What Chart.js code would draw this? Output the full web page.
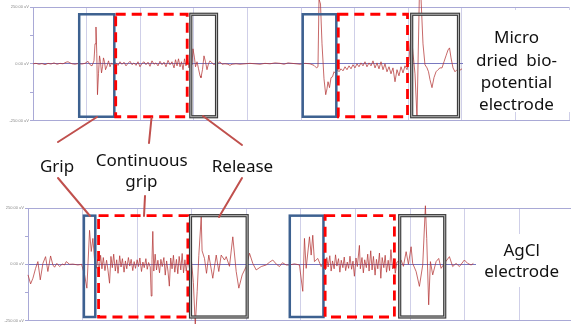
<!DOCTYPE html>
<html>
<head>
<meta charset="utf-8">
<script src="https://cdn.jsdelivr.net/npm/chart.js@4.4.1/dist/chart.umd.min.js"></script>
<style>
body { margin: 0; background: #fff; }
#wrap { position: relative; width: 571px; height: 324px; overflow: hidden; }
canvas { position: absolute; left: 0; }
#topChart { top: 0; }
#botChart { top: 200px; }
svg { position: absolute; left: 0; top: 0; }
svg text { font-family: "Noto Sans", sans-serif; font-size: 17px; fill: #111; text-anchor: middle; }
</style>
</head>
<body>
<div id="wrap">
<canvas id="topChart" width="571" height="124"></canvas>
<canvas id="botChart" width="571" height="124"></canvas>
<svg width="571" height="324">
  <g stroke="#c0504d" stroke-width="2" stroke-linecap="round">
    <line x1="97" y1="117" x2="58" y2="142"/>
    <line x1="151.5" y1="118" x2="149" y2="143"/>
    <line x1="203" y1="116" x2="242" y2="145"/>
    <line x1="58" y1="178" x2="90" y2="216"/>
    <line x1="145" y1="196" x2="144" y2="216"/>
    <line x1="242" y1="178" x2="219" y2="217"/>
  </g>
  <text x="57" y="171.7">Grip</text>
  <text x="141.7" y="166">Continuous</text>
  <text x="141.4" y="187.3">grip</text>
  <text x="242.5" y="171.7">Release</text>
  <rect x="463" y="10" width="108" height="102" fill="#fff"/>
  <text x="516.5" y="42.7">Micro</text>
  <text x="516.5" y="66" style="word-spacing:4px">dried bio-</text>
  <text x="516.5" y="88">potential</text>
  <text x="516.5" y="109.7">electrode</text>
  <rect x="476" y="234" width="95" height="53" fill="#fff"/>
  <text x="521.7" y="255.7">AgCl</text>
  <text x="521.7" y="277.3">electrode</text>
</svg>
</div>
<script>
// y axis (uV)
var yTicks = [-250, -125, 0, 125, 250];
var yTickLabels = ['-250.00 uV', '', '0.00 uV', '', '250.00 uV'];

// micro dried bio-potential electrode, time in s (1 grid = 1 s), signal in uV
var topTime = [
  0, 0.056, 0.112, 0.168, 0.224, 0.28, 0.336, 0.392, 0.448, 0.504,
  0.56, 0.616, 0.653, 0.69, 0.728, 0.784, 0.84, 0.914, 0.97, 1.026,
  1.063, 1.101, 1.138, 1.157, 1.175, 1.19, 1.203, 1.222, 1.241, 1.259,
  1.278, 1.297, 1.315, 1.334, 1.353, 1.381, 1.409, 1.437, 1.465, 1.493,
  1.511, 1.549, 1.586, 1.623, 1.66, 1.698, 1.735, 1.772, 1.81, 1.847,
  1.884, 1.922, 1.959, 1.996, 2.034, 2.071, 2.108, 2.146, 2.183, 2.22,
  2.257, 2.295, 2.332, 2.369, 2.407, 2.444, 2.481, 2.519, 2.556, 2.593,
  2.631, 2.659, 2.687, 2.715, 2.743, 2.771, 2.799, 2.827, 2.854, 2.882,
  2.91, 2.938, 2.966, 2.985, 3.013, 3.032, 3.06, 3.088, 3.116, 3.134,
  3.162, 3.19, 3.218, 3.246, 3.274, 3.302, 3.34, 3.377, 3.414, 3.451,
  3.489, 3.526, 3.582, 3.638, 3.675, 3.713, 3.787, 3.862, 3.955, 4.049,
  4.142, 4.235, 4.328, 4.422, 4.515, 4.608, 4.683, 4.757, 4.832, 4.907,
  4.981, 5.075, 5.168, 5.243, 5.289, 5.317, 5.336, 5.364, 5.392, 5.429,
  5.461, 5.485, 5.504, 5.532, 5.56, 5.588, 5.616, 5.653, 5.681, 5.709,
  5.746, 5.784, 5.821, 5.858, 5.896, 5.933, 5.97, 6.007, 6.045, 6.082,
  6.119, 6.157, 6.194, 6.231, 6.269, 6.306, 6.343, 6.381, 6.418, 6.455,
  6.493, 6.53, 6.567, 6.604, 6.642, 6.679, 6.716, 6.754, 6.791, 6.828,
  6.866, 6.903, 6.94, 6.978, 7.015, 7.052, 7.09, 7.127, 7.164, 7.207,
  7.239, 7.276, 7.313, 7.351, 7.379, 7.407, 7.444, 7.481, 7.519, 7.556,
  7.593, 7.631, 7.668, 7.705, 7.743, 7.771, 7.799, 7.836, 7.873, 7.91,
  7.948, 8.004
];
var topUv = [
  0, 2, -2, 1, -4, 2, -1, 4, -2, 2,
  0, 7, 9, 4, 0, -2, 1, -1, 2, 11,
  -4, -9, 13, 88, 162, 44, -136, -44, 35, 9,
  -40, -13, 26, 9, -26, -9, 13, -13, 4, -4,
  2, 4, -7, 9, -2, 7, -9, 2, 11, -4,
  4, -7, 9, -13, 2, 9, -4, 7, -11, 13,
  -2, 4, -9, 11, -4, 7, -13, 15, -4, 9,
  -18, 18, -9, 22, -13, 9, -26, 22, -9, 26,
  -18, 13, -4, 66, 26, -13, 9, -22, -53, -61,
  -26, 35, 9, -26, 0, 13, 4, -4, 4, 2,
  9, -2, 0, -2, -7, -2, 0, -2, 0, 2,
  0, -2, 2, 0, 4, 2, -2, 4, 2, 0,
  -2, 2, 0, -7, -18, -13, 285, 263, 88, -66,
  -136, -110, -79, -105, -61, -57, -35, -44, -26, -35,
  -22, -31, -13, -26, -9, -22, -4, -18, 0, -13,
  4, -9, 9, -13, 4, -9, 13, -18, 4, -22,
  9, -26, 0, -35, -13, -44, -18, -79, -26, -53,
  -13, -40, -9, -26, 13, 149, 44, -44, -237, 285,
  290, 88, -4, -18, -35, -70, -105, -61, -35, -26,
  -18, -18, 9, 35, 61, 70, 26, -18, -35, -26,
  -31, -22
];

// AgCl electrode
var botTime = [
  0, 0.048, 0.09, 0.139, 0.181, 0.225, 0.273, 0.322, 0.364, 0.414,
  0.456, 0.487, 0.529, 0.579, 0.628, 0.67, 0.701, 0.762, 0.822, 0.914,
  0.982, 1.037, 1.079, 1.128, 1.159, 1.189, 1.22, 1.251, 1.275, 1.3,
  1.33, 1.355, 1.38, 1.41, 1.44, 1.465, 1.494, 1.52, 1.545, 1.57,
  1.6, 1.625, 1.65, 1.68, 1.705, 1.73, 1.76, 1.785, 1.81, 1.84,
  1.865, 1.89, 1.92, 1.945, 1.97, 2.0, 2.025, 2.05, 2.08, 2.105,
  2.13, 2.16, 2.185, 2.21, 2.24, 2.258, 2.272, 2.287, 2.305, 2.33,
  2.355, 2.38, 2.41, 2.435, 2.46, 2.49, 2.515, 2.54, 2.565, 2.59,
  2.615, 2.64, 2.665, 2.69, 2.72, 2.745, 2.77, 2.8, 2.825, 2.85,
  2.875, 2.9, 2.93, 2.96, 2.99, 3.03, 3.065, 3.1, 3.13, 3.174,
  3.19, 3.234, 3.271, 3.313, 3.386, 3.449, 3.496, 3.54, 3.601, 3.632,
  3.692, 3.753, 3.815, 3.863, 3.925, 3.998, 4.059, 4.119, 4.181, 4.273,
  4.364, 4.425, 4.485, 4.553, 4.608, 4.663, 4.731, 4.791, 4.883, 4.974,
  5.035, 5.066, 5.097, 5.158, 5.189, 5.218, 5.249, 5.31, 5.372, 5.414,
  5.45, 5.475, 5.5, 5.53, 5.555, 5.58, 5.61, 5.635, 5.66, 5.69,
  5.715, 5.74, 5.77, 5.795, 5.82, 5.85, 5.875, 5.9, 5.93, 5.955,
  5.981, 6.01, 6.035, 6.073, 6.09, 6.12, 6.145, 6.17, 6.2, 6.225,
  6.25, 6.28, 6.305, 6.33, 6.36, 6.385, 6.41, 6.44, 6.465, 6.49,
  6.52, 6.545, 6.57, 6.6, 6.625, 6.65, 6.68, 6.705, 6.73, 6.76,
  6.837, 6.879, 6.929, 6.971, 7.02, 7.049, 7.112, 7.172, 7.233, 7.282,
  7.306, 7.342, 7.374, 7.416, 7.478, 7.526, 7.57, 7.63, 7.722, 7.782,
  7.844, 7.905, 7.996, 8.057, 8.119, 8.161
];
var botUv = [
  -47, -87, -62, -18, 12, -69, 4, 34, -32, 37,
  -3, -13, 4, -10, 1, -3, 12, 0, 1, -3,
  0, -47, -106, 151, 57, 115, 19, -18, 22, -35,
  40, -20, 30, -28, 18, -25, -84, 35, -15, 45,
  -30, 20, -40, 38, -12, 25, -35, 15, -20, 30,
  -8, 22, -28, 12, -18, 20, -10, 28, -32, 10,
  -15, 25, -22, 8, -12, -141, 20, 146, -30, 45,
  -25, 18, -38, 22, -10, 30, -48, 15, -30, -97,
  28, -20, 40, -35, 22, -42, 35, -25, 48, -38,
  20, -30, 26, -20, 30, -80, -270, -120, 40, 210,
  60, 26, -40, 41, -62, 41, -32, 41, 19, 34,
  -9, 122, -32, -106, -47, -10, 49, 4, -25, -10,
  -3, 9, 19, 0, -10, 7, -3, -3, 2, -3,
  -120, 115, -18, 122, 41, 129, 12, 26, -10, 9,
  -25, 30, -12, 38, -30, 15, -20, 42, -8, 25,
  -35, 18, -15, 32, -28, 10, -18, 36, -22, 14,
  -53, 28, -10, 84, -20, 30, -38, 20, -15, 45,
  -30, 60, -25, 35, -48, 22, -20, 50, -62, 30,
  -15, 40, -35, 18, -28, 65, -20, 25, -40, 10,
  19, -9, 56, 0, 78, 4, -32, -98, -3, 260,
  115, -180, 12, -47, 12, 26, -18, 4, 34, -10,
  4, -10, 19, 4, -3, 4
];

// marked phases (s)
var phaseKind = ['grip', 'continuous', 'release', 'grip', 'continuous', 'release'];
var topPhaseStart = [0.862, 1.543, 2.944, 5.032, 5.696, 7.065];
var topPhaseEnd = [1.517, 2.877, 3.424, 5.659, 6.987, 7.938];
var botPhaseStart = [1.024, 1.293, 2.978, 4.797, 5.445, 6.811];
var botPhaseEnd = [1.233, 2.929, 4.016, 5.414, 6.714, 7.636];

var phasePlugin = {
  id: 'phases',
  afterDatasetsDraw: function(chart, args, o) {
    var ctx = chart.ctx, xs = chart.scales.x, ys = chart.scales.y;
    var y1 = ys.getPixelForValue(o.top), y2 = ys.getPixelForValue(o.bottom);
    ctx.save();
    for (var i = 0; i < o.start.length; i++) {
      var x1 = xs.getPixelForValue(o.start[i]), x2 = xs.getPixelForValue(o.end[i]);
      var k = phaseKind[i];
      if (k == 'grip') {
        ctx.setLineDash([]);
        ctx.strokeStyle = '#3d6190';
        ctx.lineWidth = 2.5;
        ctx.strokeRect(x1, y1, x2 - x1, y2 - y1);
      } else if (k == 'continuous') {
        ctx.setLineDash([10, 6]);
        ctx.strokeStyle = '#ff0000';
        ctx.lineWidth = 2.8;
        ctx.strokeRect(x1, y1, x2 - x1, y2 - y1);
      } else {
        ctx.setLineDash([]);
        ctx.strokeStyle = '#3a3a3a';
        ctx.lineWidth = 3.2;
        ctx.strokeRect(x1, y1, x2 - x1, y2 - y1);
        ctx.strokeStyle = '#b8b8b8';
        ctx.lineWidth = 1;
        ctx.strokeRect(x1, y1, x2 - x1, y2 - y1);
      }
    }
    ctx.restore();
  }
};

function makeChart(id, times, values, cfg) {
  var pts = times.map(function(t, i) { return {x: t, y: values[i]}; });
  return new Chart(id, {
    type: 'scatter',
    data: {
      datasets: [{
        data: pts,
        showLine: true,
        borderColor: 'rgba(180,55,55,0.75)',
        borderWidth: 1,
        pointRadius: 0,
        tension: 0,
        clip: false
      }]
    },
    options: {
      responsive: false,
      animation: false,
      layout: { padding: { top: cfg.padTop, right: cfg.padRight, left: 0, bottom: 0 } },
      plugins: {
        legend: { display: false },
        tooltip: { enabled: false },
        phases: { start: cfg.start, end: cfg.end, top: cfg.boxTop, bottom: cfg.boxBottom }
      },
      scales: {
        x: {
          type: 'linear', min: 0, max: cfg.xMax,
          ticks: { display: false, stepSize: 1 },
          grid: { color: '#cfcfe8', drawTicks: false },
          border: { display: true, color: '#a9a9d6' },
          afterFit: function(s) { s.height = cfg.xH; }
        },
        y: {
          min: -250, max: 250,
          afterBuildTicks: function(s) { s.ticks = yTicks.map(function(v) { return {value: v}; }); },
          ticks: {
            font: { size: 4, family: 'Arial' }, color: '#8a8a8a', padding: 1,
            callback: function(v) { return yTickLabels[yTicks.indexOf(v)]; }
          },
          grid: {
            color: function(c) {
              if (c.tick.value === 0) return '#7878c0';
              if (Math.abs(c.tick.value) === 250) return '#a9a9d6';
              return 'rgba(0,0,0,0)';
            },
            tickColor: '#a9a9d6', tickLength: 3
          },
          border: { color: '#a9a9d6' },
          afterFit: function(s) { s.width = cfg.yW; }
        }
      }
    },
    plugins: [phasePlugin]
  });
}

makeChart('topChart', topTime, topUv, {
  padTop: 7, padRight: 2, xH: 3, yW: 33, xMax: 10,
  start: topPhaseStart, end: topPhaseEnd, boxTop: 218, boxBottom: -233
});
makeChart('botChart', botTime, botUv, {
  padTop: 8, padRight: 0, xH: 2, yW: 28, xMax: 9.95,
  start: botPhaseStart, end: botPhaseEnd, boxTop: 216, boxBottom: -234
});
</script>
</body>
</html>
